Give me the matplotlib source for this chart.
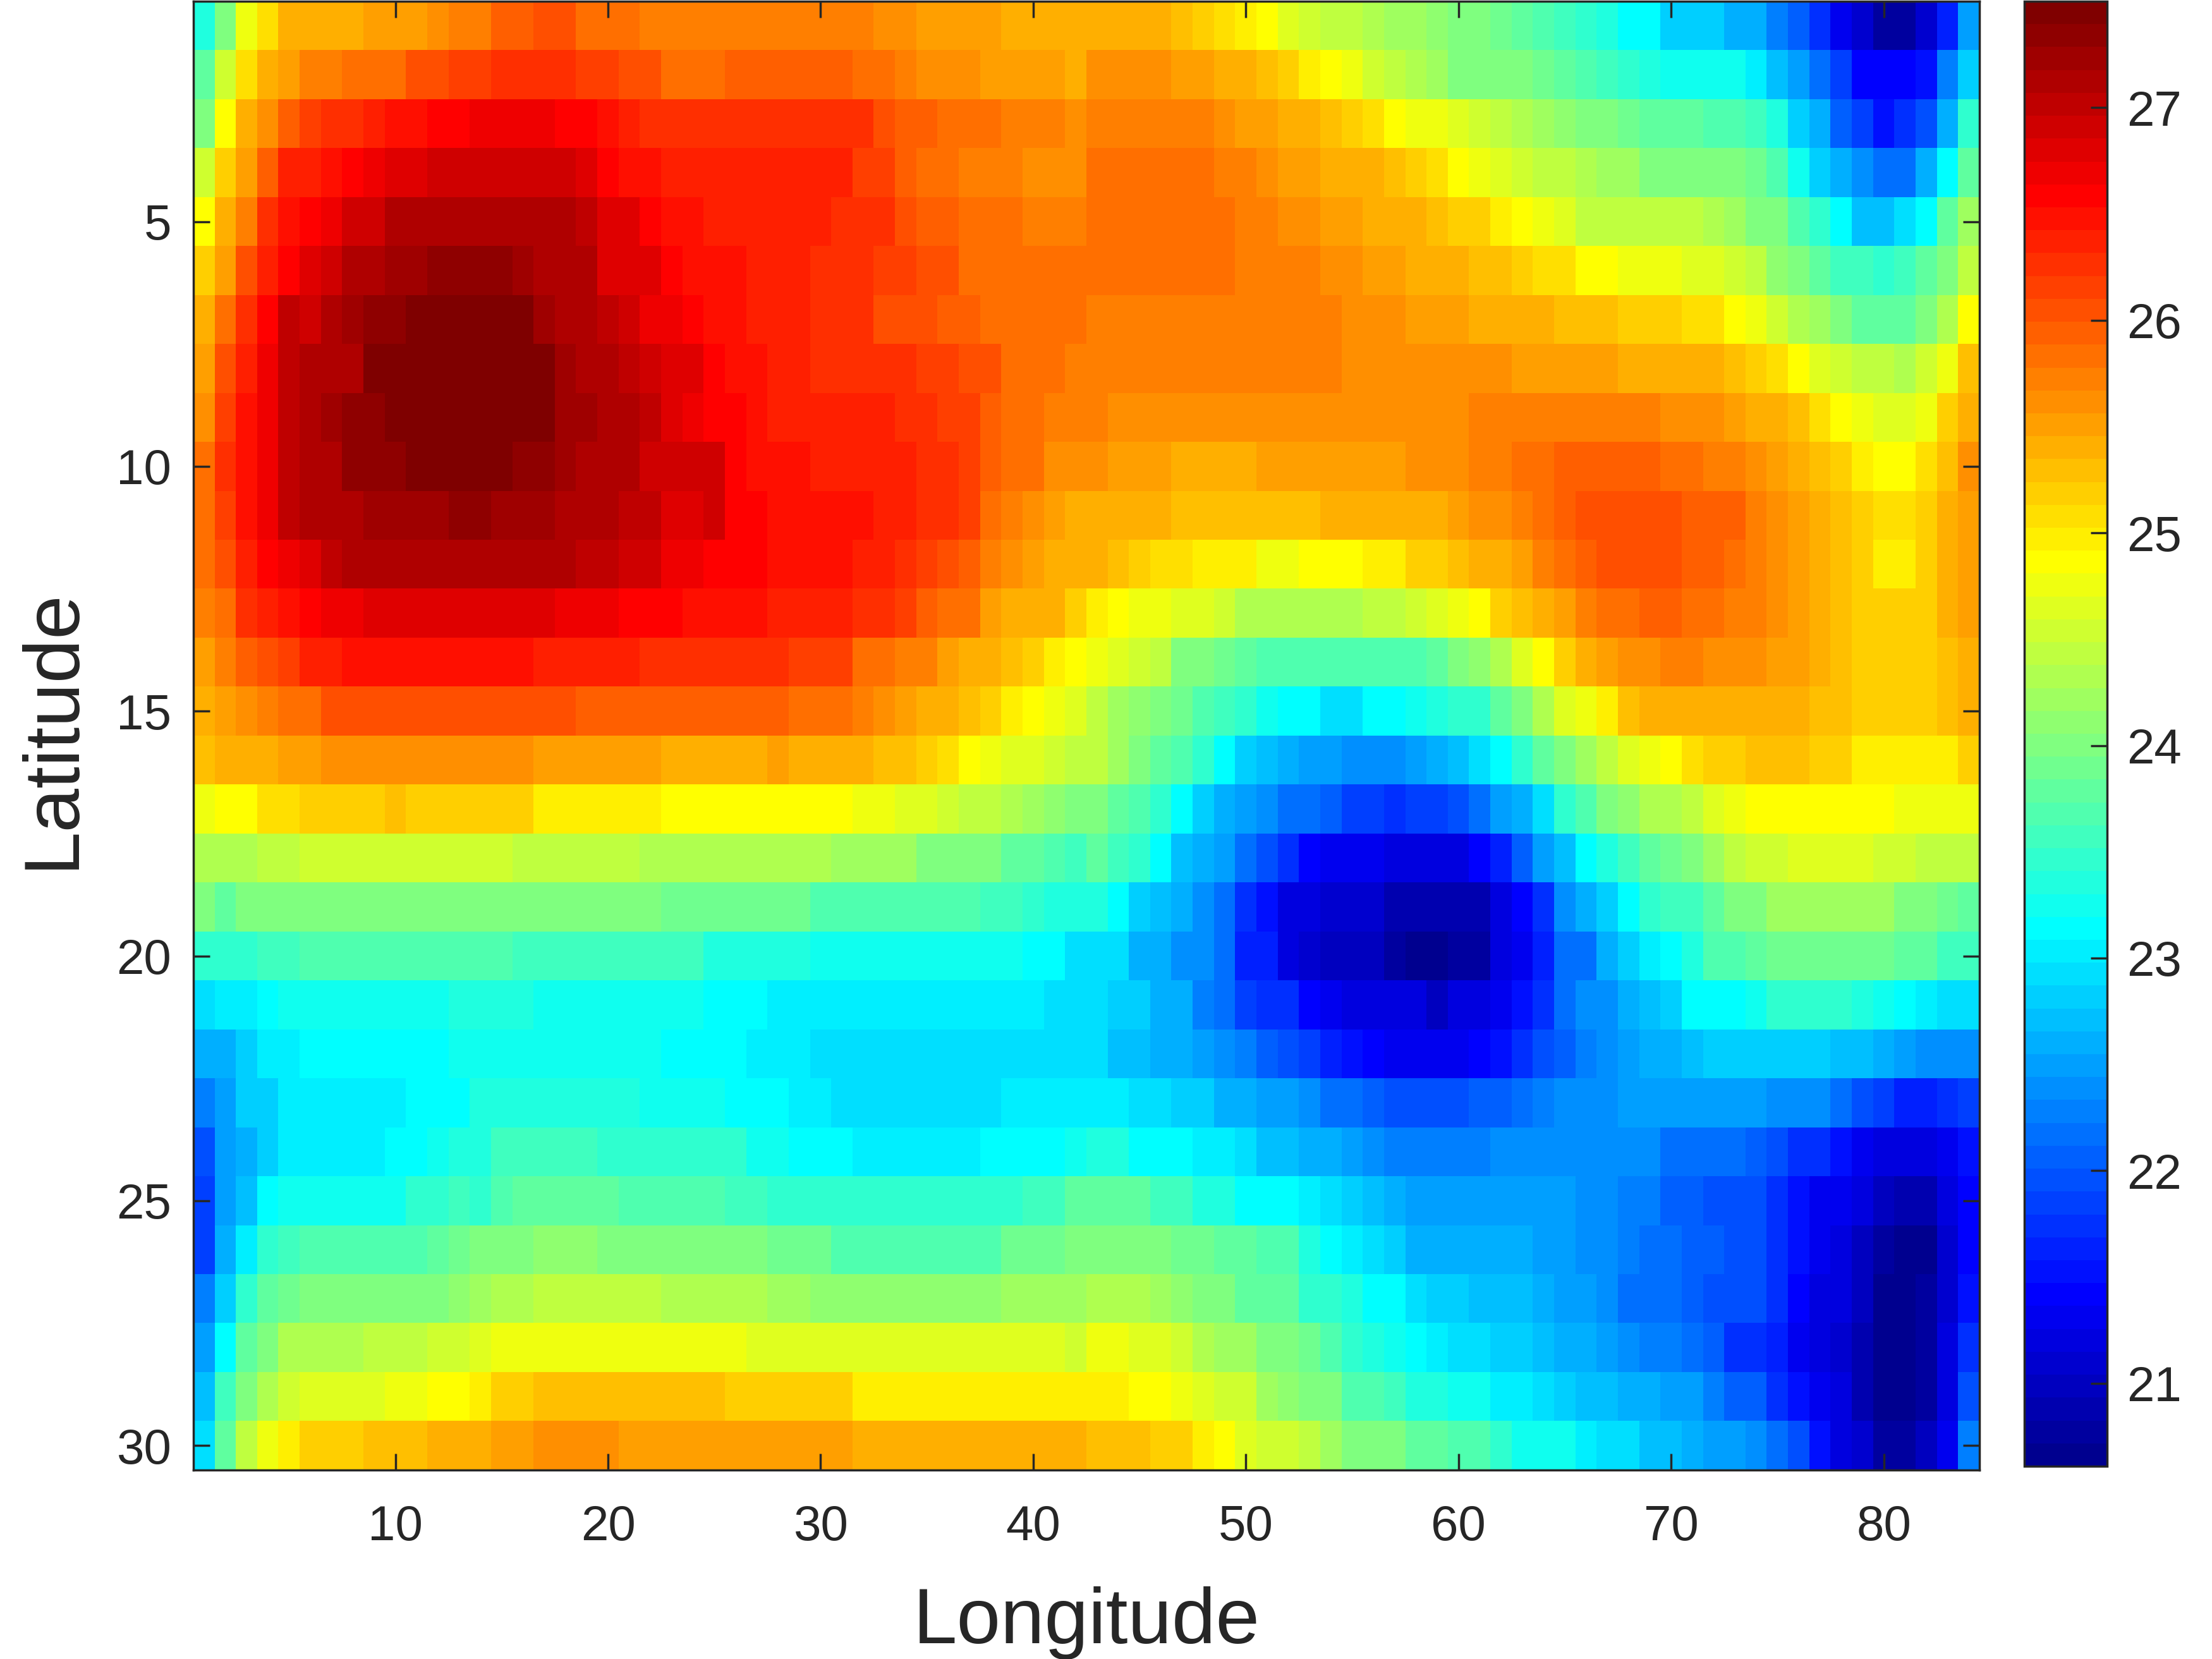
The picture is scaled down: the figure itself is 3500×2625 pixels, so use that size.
import matplotlib
matplotlib.use('Agg')
import matplotlib.pyplot as plt
from matplotlib.colors import ListedColormap
import numpy as np

# sea surface temperature per cell, in tenths of a degree
row01 = [234,241,248,251,254,255,255,255,256,256,256,257,258,258,260,260,261,261,259,259,259,258,258,258,258,258,258,258,258,258,258,258,257,257,256,256,256,256,255,255,255,255,
         255,254,254,254,253,252,251,250,249,247,246,245,245,244,243,243,242,241,240,239,238,237,236,235,234,232,232,229,229,229,226,226,223,221,218,214,211,208,208,211,217,225]
row02 = [238,246,251,254,256,258,258,259,259,259,261,261,262,262,263,263,263,263,262,262,261,261,259,259,259,260,260,260,260,260,260,259,259,258,257,257,257,256,256,256,256,255,
         257,257,257,257,256,256,255,254,253,252,250,249,248,246,245,244,243,241,241,241,240,239,238,237,236,235,234,233,233,233,233,231,228,225,222,219,215,215,215,216,223,229]
row03 = [241,249,255,257,260,262,263,263,264,265,265,266,266,267,267,267,267,266,266,265,264,263,263,263,263,263,263,263,263,263,263,263,261,260,260,259,259,259,258,258,258,257,
         258,258,258,258,258,258,257,256,256,255,254,253,252,251,249,248,248,247,246,245,244,243,242,241,240,239,238,238,238,237,237,236,234,229,226,221,219,216,218,220,227,235]
row04 = [246,252,256,260,264,264,265,266,267,268,268,270,270,270,270,270,270,270,268,266,265,265,264,264,264,264,264,264,264,264,264,262,262,260,259,259,258,258,258,257,257,257,
         259,259,259,259,259,259,258,258,257,256,256,255,254,254,253,252,251,249,248,247,246,245,245,244,243,243,241,241,241,241,240,239,237,233,229,226,224,222,222,226,232,238]
row05 = [249,254,258,263,265,266,267,270,270,272,272,272,272,272,272,272,272,272,271,268,268,266,265,265,264,264,264,264,264,264,263,263,263,261,260,260,259,259,259,258,258,258,
         259,259,259,259,259,259,259,258,258,257,257,256,256,255,255,254,253,252,252,250,249,248,247,245,245,245,245,245,245,244,243,240,240,237,235,232,228,228,230,232,238,243]
row06 = [252,256,261,264,266,268,270,272,272,273,273,274,274,274,274,273,272,272,272,268,268,268,266,265,265,265,264,264,264,263,263,263,262,262,261,261,259,259,259,259,259,259,
         259,259,259,259,259,259,259,258,258,258,258,257,257,256,256,255,255,254,253,253,252,251,251,249,249,248,248,248,247,247,246,245,242,240,238,236,236,235,236,238,240,245]
row07 = [254,259,263,266,271,270,272,273,274,274,275,275,275,275,275,275,273,272,272,271,270,267,267,266,265,265,264,264,264,263,263,263,261,261,261,260,260,259,259,259,259,259,
         258,258,258,258,258,258,258,258,258,258,258,258,257,257,257,256,256,256,255,255,254,254,253,253,253,252,252,252,251,251,249,248,246,244,243,241,238,238,238,240,244,249]
row08 = [256,261,264,267,271,272,272,272,275,275,275,275,275,275,275,275,275,273,272,272,271,270,268,268,266,265,265,264,264,263,263,263,263,263,262,262,261,261,259,259,259,258,
         258,258,258,258,258,258,258,258,258,258,258,258,257,257,257,257,257,257,257,257,256,256,256,256,256,255,255,255,254,254,253,252,251,249,247,246,245,245,244,246,248,253]
row09 = [257,262,265,267,271,272,273,274,274,275,275,275,275,275,275,275,275,273,273,272,272,271,268,267,266,266,265,264,264,264,264,264,264,263,263,262,262,260,259,259,258,258,
         258,257,257,257,257,257,257,257,257,257,257,257,257,257,257,257,257,257,258,258,258,258,258,258,258,258,258,257,257,257,256,255,254,253,251,249,248,247,247,248,252,255]
row10 = [259,263,265,267,271,272,272,274,274,274,275,275,275,275,275,274,274,273,272,272,272,270,270,270,270,266,265,265,265,264,264,264,264,264,263,263,262,260,259,259,257,257,
         257,256,256,256,255,255,255,255,256,256,256,256,256,256,256,257,257,257,258,258,259,259,260,260,260,260,260,259,259,258,258,257,256,255,253,252,250,249,249,251,253,257]
row11 = [259,262,265,267,271,272,272,272,273,273,273,273,274,274,273,273,273,272,272,272,271,271,268,268,270,266,266,265,265,265,265,265,264,264,263,263,262,259,258,257,256,255,
         255,255,254,254,253,253,253,253,253,253,253,254,254,254,254,255,255,256,257,257,258,259,260,261,261,261,261,261,260,260,260,258,257,256,255,253,252,251,251,252,254,256]
row12 = [259,261,264,266,267,268,271,272,272,272,272,272,272,272,272,272,272,272,271,271,270,270,267,267,266,266,266,265,265,265,265,264,264,263,262,261,260,258,257,256,254,254,
         254,253,252,251,251,250,250,250,248,248,249,249,249,250,250,252,252,253,254,255,256,258,259,260,261,261,261,261,260,260,259,258,257,256,255,253,252,250,250,252,254,256]
row13 = [258,259,263,264,265,266,267,267,268,268,268,268,268,268,268,268,268,267,267,267,266,266,266,265,265,265,265,264,264,264,264,263,263,262,260,259,259,256,255,255,254,252,
         250,249,248,248,247,247,246,244,244,244,244,244,244,245,245,246,247,248,249,252,253,255,256,258,259,259,260,260,259,259,258,258,257,256,255,253,252,252,252,252,254,256]
row14 = [256,258,260,261,262,264,264,265,265,265,265,265,265,265,265,265,264,264,264,264,264,263,263,263,263,263,263,263,262,262,262,259,259,258,258,256,255,254,253,252,250,249,
         248,247,246,245,241,240,239,238,237,237,237,237,237,237,237,237,238,240,242,244,247,249,252,254,256,257,257,258,258,257,257,257,256,256,254,253,252,252,252,252,253,254]
row15 = [254,256,257,258,259,259,261,261,261,261,261,261,261,261,261,261,261,261,260,260,260,260,260,260,260,260,260,260,259,259,259,258,257,256,255,254,253,252,250,249,248,247,
         245,243,242,240,239,237,236,235,233,232,232,230,230,232,232,233,234,235,235,238,241,244,247,248,250,253,254,254,255,255,255,255,255,254,253,253,252,252,252,252,253,254]
row16 = [253,254,255,255,256,256,257,257,257,257,257,257,257,257,257,257,256,256,256,256,256,256,255,255,255,255,255,256,255,255,255,254,253,253,252,251,249,248,247,247,246,245,
         245,243,241,238,237,235,232,229,228,227,225,225,224,224,224,225,227,228,230,232,235,238,240,243,245,247,248,249,251,252,252,253,253,253,252,252,250,250,250,250,250,252]
row17 = [248,249,249,251,251,252,252,252,252,253,252,252,252,252,252,252,250,250,250,250,250,250,249,249,249,249,249,249,249,249,249,248,248,247,247,246,245,245,244,243,242,240,
         241,238,237,235,232,229,227,225,224,222,222,221,219,219,218,219,219,220,222,225,227,230,235,237,240,242,244,244,245,247,248,249,249,249,249,249,249,249,248,248,248,248]
row18 = [244,244,244,245,245,246,246,246,246,246,246,246,246,246,246,245,245,245,245,245,245,244,244,244,244,244,244,244,244,244,243,243,243,243,241,241,240,240,238,238,237,236,
         238,236,235,232,228,226,225,222,220,218,215,214,214,214,212,212,212,213,215,217,221,225,228,232,234,236,238,239,241,243,245,246,246,247,247,247,247,246,246,245,245,245]
row19 = [240,238,240,240,240,241,241,241,241,241,241,241,241,241,241,240,240,240,240,240,240,240,239,239,239,239,239,239,239,237,237,237,237,237,237,237,237,236,236,235,234,234,
         234,232,229,228,226,224,222,218,216,213,213,211,211,211,209,209,209,209,209,212,215,218,224,226,229,232,235,236,236,238,240,241,243,243,243,243,243,243,241,241,239,238]
row20 = [235,235,235,236,236,237,237,237,237,237,237,237,237,237,237,236,236,236,236,236,236,236,236,236,234,234,234,234,234,233,233,233,233,233,233,233,233,233,233,232,232,230,
         230,230,227,227,224,224,222,217,217,213,211,210,210,210,208,207,207,208,208,212,214,217,222,222,226,229,231,232,234,237,237,238,239,239,239,239,239,239,238,238,236,236]
row21 = [230,231,231,232,233,233,233,233,233,233,233,233,234,234,234,234,233,233,233,233,233,233,233,233,232,232,232,231,231,231,231,231,231,231,231,231,231,231,231,231,230,230,
         230,229,229,227,226,223,222,219,218,218,215,214,213,213,213,212,210,212,212,214,216,218,222,224,224,227,228,229,232,232,232,233,235,235,235,235,234,233,232,231,230,230]
row22 = [226,227,229,231,231,232,232,232,232,232,232,232,233,233,233,233,233,233,233,233,233,233,232,232,232,232,231,231,231,230,230,230,230,230,230,230,230,230,230,230,230,230,
         230,228,228,227,226,225,224,223,221,220,219,217,216,215,214,214,214,214,215,216,218,220,221,223,224,225,227,227,228,229,229,229,229,229,229,228,228,226,225,224,224,224]
row23 = [223,225,229,229,231,231,231,231,231,231,232,232,232,234,234,234,234,234,234,234,234,233,233,233,233,232,232,232,231,231,230,230,230,230,230,230,230,230,231,231,231,231,
         231,231,230,230,229,229,227,226,225,225,224,222,222,221,220,220,220,220,221,221,222,223,224,224,224,225,225,225,225,225,225,225,224,224,224,222,220,219,217,217,218,219]
row24 = [220,225,227,229,231,231,231,231,231,232,232,233,234,234,236,236,236,236,236,235,235,235,235,235,235,235,233,233,232,232,232,231,231,231,231,231,231,232,232,232,232,233,
         234,234,232,232,232,231,231,230,228,228,227,226,225,224,223,223,223,223,223,224,224,224,224,224,224,224,224,222,222,222,222,221,220,218,218,216,214,213,212,212,214,216]
row25 = [219,225,228,232,233,233,233,233,233,233,235,235,236,235,237,238,238,238,238,238,237,237,237,237,237,236,236,235,235,235,235,235,235,235,235,235,235,235,235,236,236,238,
         238,238,238,236,236,234,234,232,232,232,231,230,229,228,227,225,225,225,225,225,225,225,225,224,224,223,223,221,221,220,220,220,218,216,214,214,212,210,209,209,212,215]
row26 = [219,226,231,235,236,237,237,237,237,237,237,238,239,240,241,241,242,242,242,241,241,241,241,241,241,240,240,239,239,239,237,237,237,237,237,237,237,237,239,239,239,240,
         240,240,240,240,239,239,238,238,237,237,234,232,231,230,229,227,227,226,226,226,226,225,225,224,224,223,222,222,221,221,220,220,218,216,214,213,210,208,207,207,211,215]
row27 = [223,229,235,238,239,240,240,240,240,240,240,241,242,243,244,244,245,245,245,245,245,245,244,244,244,244,244,243,243,242,242,242,242,242,242,242,242,242,243,243,243,243,
         244,244,244,243,242,240,240,238,238,238,235,235,234,232,232,230,229,229,228,228,228,226,225,225,224,222,222,222,221,220,220,220,218,215,213,212,210,207,207,208,211,216]
row28 = [225,232,238,241,244,244,244,244,245,245,245,246,246,247,248,248,248,248,248,248,248,248,248,248,248,248,247,247,247,247,247,247,247,247,247,247,247,247,247,247,247,246,
         248,248,247,247,246,244,243,243,241,240,239,237,235,234,233,232,231,230,230,229,229,228,226,226,225,224,223,223,222,221,218,218,217,214,213,211,209,207,207,208,212,218]
row29 = [228,236,240,244,246,247,247,247,247,248,248,249,249,250,252,252,253,253,253,253,253,253,253,253,253,252,252,252,252,252,252,250,250,250,250,250,250,250,250,250,250,250,
         250,250,249,249,248,247,246,246,243,242,241,240,237,237,236,234,234,233,233,231,231,230,229,228,228,226,226,225,225,223,221,221,218,216,214,212,209,207,207,208,213,220]
row30 = [230,238,245,248,250,252,252,252,253,253,253,254,255,255,256,256,257,257,257,257,256,256,256,256,256,256,256,256,256,256,256,255,255,255,254,254,254,254,254,254,254,254,
         253,253,253,252,252,250,249,247,246,246,245,243,241,240,240,238,238,237,237,235,233,233,233,231,230,230,228,228,227,225,225,224,222,220,216,213,211,208,208,210,214,223]

rows = [row01, row02, row03, row04, row05, row06, row07, row08, row09, row10,
        row11, row12, row13, row14, row15, row16, row17, row18, row19, row20,
        row21, row22, row23, row24, row25, row26, row27, row28, row29, row30]

x_ticks = [10, 20, 30, 40, 50, 60, 70, 80]
y_ticks = [5, 10, 15, 20, 25, 30]
bar_ticks = [21, 22, 23, 24, 25, 26, 27]
temp_min = 20.61
temp_max = 27.5
read_offset = 0.05  # readings sit on the upper edge of each colour step


def matlab_jet():
    # MATLAB's jet(64), matplotlib's own jet has its red end a bit further along
    k = np.arange(1, 65)
    red = np.minimum(np.clip((k - 24) / 16, 0, 1), np.clip(1 - (k - 56) / 16, 0, 1))
    green = np.minimum(np.clip((k - 8) / 16, 0, 1), np.clip(1 - (k - 40) / 16, 0, 1))
    blue = np.minimum(np.clip(0.5 + k / 16, 0, 1), np.clip(1 - (k - 24) / 16, 0, 1))
    return ListedColormap(np.column_stack([red, green, blue]))


def main():
    plt.rcParams['font.family'] = ['Liberation Sans', 'DejaVu Sans']
    plt.rcParams['text.color'] = '#262626'
    plt.rcParams['axes.edgecolor'] = '#262626'
    plt.rcParams['axes.labelcolor'] = '#262626'
    plt.rcParams['xtick.color'] = '#262626'
    plt.rcParams['ytick.color'] = '#262626'
    plt.rcParams['axes.linewidth'] = 1.0

    temps = np.array(rows) / 10 - read_offset
    W, H = 3500, 2625
    fig = plt.figure(figsize=(14, 10.5), dpi=250)
    ax = fig.add_axes([306/W, 1 - 2326/H, 2826/W, 2324/H])
    im = ax.imshow(temps, cmap=matlab_jet(), vmin=temp_min, vmax=temp_max,
                   extent=(0.5, 84.5, 30.5, 0.5), aspect='auto', interpolation='nearest')
    ax.set_xticks(x_ticks)
    ax.set_yticks(y_ticks)
    ax.tick_params(direction='in', top=True, right=True, length=7.5, width=1.0, labelsize=22.5)
    ax.tick_params(axis='x', pad=15.5)
    ax.tick_params(axis='y', pad=10)
    ax.set_xlabel('Longitude', fontsize=36, va='baseline')
    ax.xaxis.set_label_coords(0.5, -0.118)
    ax.set_ylabel('Latitude', fontsize=36)
    ax.yaxis.set_label_coords(-0.058, 0.5047)

    cax = fig.add_axes([3203/W, 1 - 2320/H, 131/W, 2318/H])
    cb = fig.colorbar(im, cax=cax)
    cb.set_ticks(bar_ticks)
    cb.ax.tick_params(direction='in', length=7.5, width=1.0, labelsize=22.5, pad=9)
    cb.outline.set_linewidth(1.0)
    cb.outline.set_edgecolor('#262626')

    # the colour bar label runs off the right edge, only its degree sign shows
    fig.text(3495/W, 1 - 972/H, '°', rotation=90, ha='left', va='center', fontsize=30)

    plt.savefig('out.png', dpi=250)


if __name__ == '__main__':
    main()
